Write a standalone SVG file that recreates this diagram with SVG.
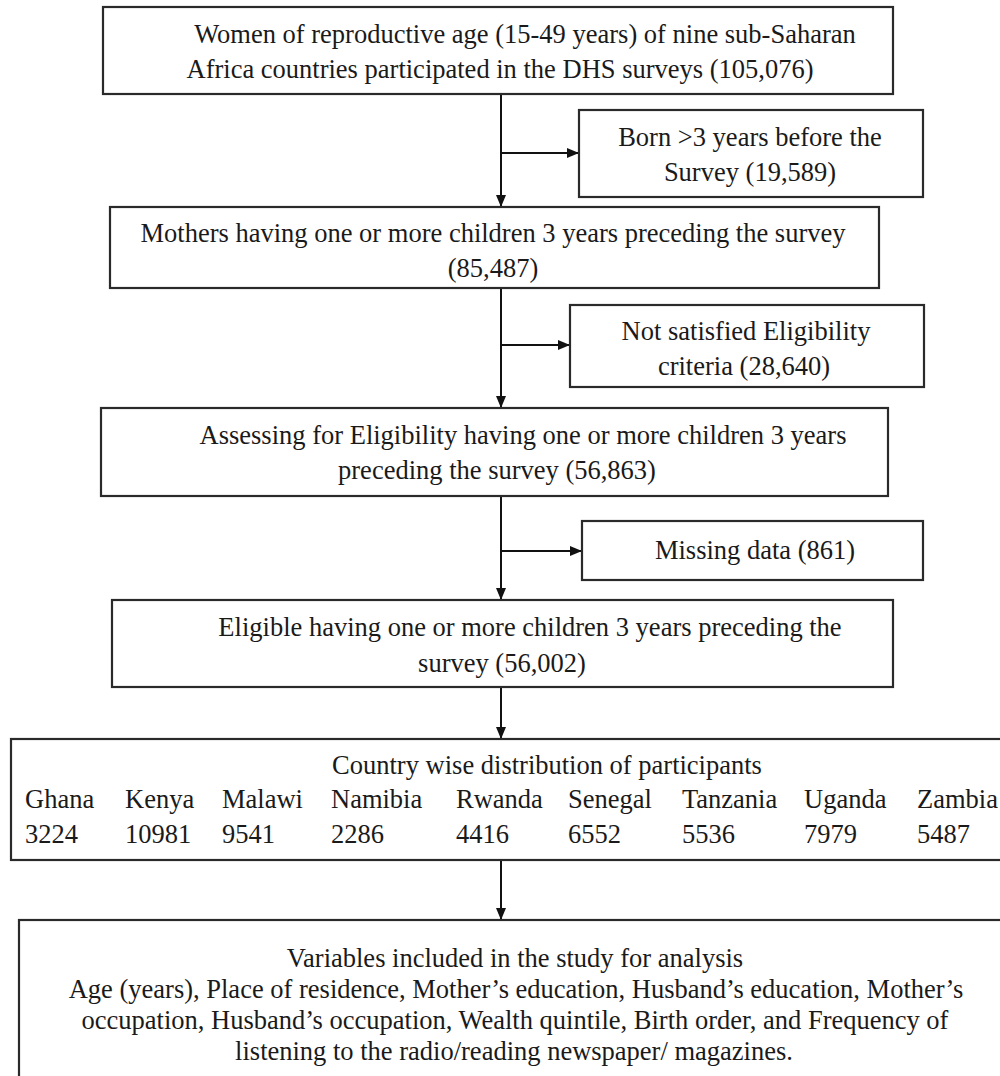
<svg xmlns="http://www.w3.org/2000/svg" width="1000" height="1076" viewBox="0 0 1000 1076">
<defs>
<style>
.box{fill:#fff;stroke:#2a2a2a;stroke-width:2.2}
.t{font-family:"Liberation Serif","Times New Roman",serif;font-size:26.5px;fill:#1a1a1a}
.m{text-anchor:middle}
.ln{stroke:#111;stroke-width:2;fill:none}
</style>
<marker id="ah" viewBox="0 0 12 10" refX="12" refY="5" markerWidth="12" markerHeight="10" markerUnits="userSpaceOnUse" orient="auto">
<path d="M0,0 L12,5 L0,10 Z" fill="#111"/>
</marker>
</defs>
<rect width="1000" height="1076" fill="#fff"/>
<g id="connectors">
<line class="ln" x1="501" y1="94" x2="501" y2="207" marker-end="url(#ah)"/>
<line class="ln" x1="501" y1="153" x2="579" y2="153" marker-end="url(#ah)"/>
<line class="ln" x1="501" y1="288" x2="501" y2="408" marker-end="url(#ah)"/>
<line class="ln" x1="501" y1="345" x2="570" y2="345" marker-end="url(#ah)"/>
<line class="ln" x1="501" y1="496" x2="501" y2="600" marker-end="url(#ah)"/>
<line class="ln" x1="501" y1="551" x2="582" y2="551" marker-end="url(#ah)"/>
<line class="ln" x1="501" y1="687" x2="501" y2="739" marker-end="url(#ah)"/>
<line class="ln" x1="501" y1="860" x2="501" y2="920" marker-end="url(#ah)"/>
</g>
<g id="n1">
<rect class="box" x="103" y="7" width="790" height="87"/>
<text class="t m" x="525" y="43">Women of reproductive age (15-49 years) of nine sub-Saharan</text>
<text class="t m" x="500" y="78">Africa countries participated in the DHS surveys (105,076)</text>
</g>
<g id="n_born">
<rect class="box" x="579" y="110" width="344" height="87"/>
<text class="t m" x="750" y="146">Born &gt;3 years before the</text>
<text class="t m" x="750" y="181">Survey (19,589)</text>
</g>
<g id="n2">
<rect class="box" x="110" y="207" width="769" height="81"/>
<text class="t m" x="493" y="242">Mothers having one or more children 3 years preceding the survey</text>
<text class="t m" x="493" y="277">(85,487)</text>
</g>
<g id="n_notsat">
<rect class="box" x="570" y="305" width="354" height="82"/>
<text class="t m" x="746" y="340">Not satisfied Eligibility</text>
<text class="t m" x="744" y="375">criteria (28,640)</text>
</g>
<g id="n3">
<rect class="box" x="101" y="408" width="787" height="88"/>
<text class="t m" x="523" y="444">Assessing for Eligibility having one or more children 3 years</text>
<text class="t m" x="497" y="479">preceding the survey (56,863)</text>
</g>
<g id="n_missing">
<rect class="box" x="582" y="521" width="341" height="59"/>
<text class="t m" x="755" y="559">Missing data (861)</text>
</g>
<g id="n4">
<rect class="box" x="112" y="600" width="781" height="87"/>
<text class="t m" x="530" y="636">Eligible having one or more children 3 years preceding the</text>
<text class="t m" x="502" y="672">survey (56,002)</text>
</g>
<g id="n5">
<rect class="box" x="11" y="739" width="1000" height="121"/>
<text class="t m" x="547" y="774">Country wise distribution of participants</text>
<text class="t" y="808"><tspan x="25">Ghana</tspan><tspan x="125">Kenya</tspan><tspan x="222">Malawi</tspan><tspan x="331">Namibia</tspan><tspan x="456">Rwanda</tspan><tspan x="568">Senegal</tspan><tspan x="682">Tanzania</tspan><tspan x="804">Uganda</tspan><tspan x="917">Zambia</tspan></text>
<text class="t" y="843"><tspan x="25">3224</tspan><tspan x="125">10981</tspan><tspan x="222">9541</tspan><tspan x="331">2286</tspan><tspan x="456">4416</tspan><tspan x="568">6552</tspan><tspan x="682">5536</tspan><tspan x="804">7979</tspan><tspan x="917">5487</tspan></text>
</g>
<g id="n6">
<rect class="box" x="19" y="920" width="1000" height="170"/>
<text class="t m" x="515" y="967">Variables included in the study for analysis</text>
<text class="t m" x="516" y="998">Age (years), Place of residence, Mother’s education, Husband’s education, Mother’s</text>
<text class="t m" x="515" y="1029">occupation, Husband’s occupation, Wealth quintile, Birth order, and Frequency of</text>
<text class="t m" x="514" y="1060">listening to the radio/reading newspaper/ magazines.</text>
</g>
</svg>
